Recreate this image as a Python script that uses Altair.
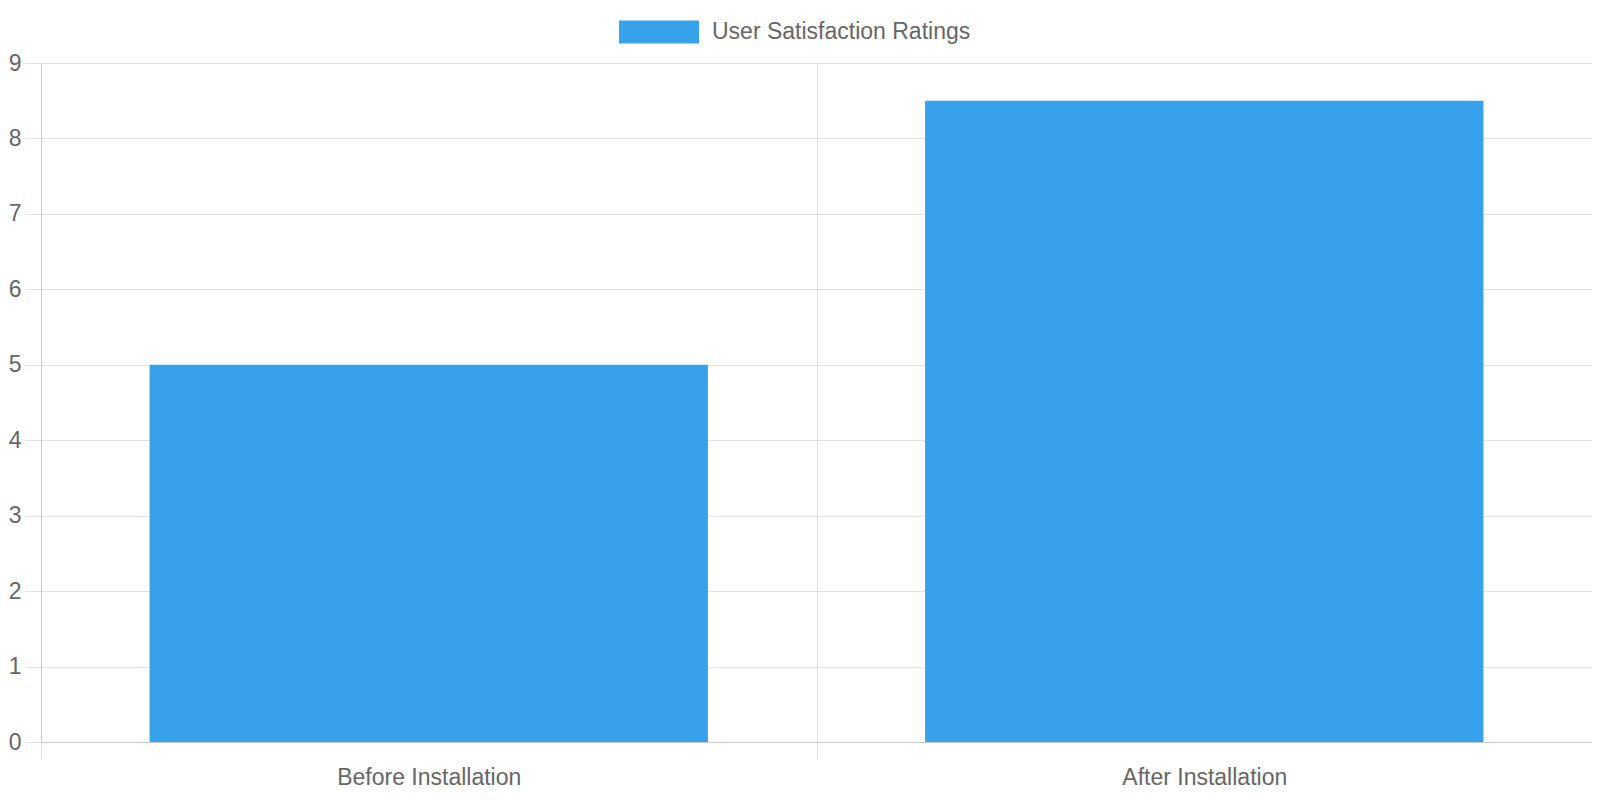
import pandas as pd
import altair as alt

# Chart values
categories = ['Before Installation', 'After Installation']
ratings = [5, 8.5]
series_name = 'User Satisfaction Ratings'

data = pd.DataFrame({
    'phase': categories,
    'rating': ratings,
    'series': [series_name] * len(categories),
})

font = 'Liberation Sans'
text_color = '#666666'
grid_color = '#e1e1e1'
axis_color = '#c9c9c9'

chart = alt.Chart(data).mark_bar(
    width=alt.RelativeBandSize(0.72)
).encode(
    x=alt.X(
        'phase:N',
        sort=categories,
        title=None,
        scale=alt.Scale(paddingInner=0, paddingOuter=0),
        axis=alt.Axis(
            labelAngle=0,
            labelFontSize=23,
            labelColor=text_color,
            labelFont=font,
            labelPadding=8,
            labelLimit=0,
            grid=True,
            gridColor=grid_color,
            tickBand='extent',
            tickColor=grid_color,
            tickSize=16,
            domainColor=axis_color,
        ),
    ),
    y=alt.Y(
        'rating:Q',
        title=None,
        scale=alt.Scale(domain=[0, 9], nice=False),
        axis=alt.Axis(
            values=list(range(10)),
            labelFontSize=23,
            labelColor=text_color,
            labelFont=font,
            labelPadding=4,
            labelLimit=0,
            grid=True,
            gridColor=grid_color,
            tickColor=grid_color,
            tickSize=16,
            domainColor=axis_color,
        ),
    ),
    color=alt.Color(
        'series:N',
        scale=alt.Scale(domain=[series_name], range=['#36A2EB']),
        legend=alt.Legend(
            title=None,
            orient='none',
            legendX=578,
            legendY=-71,
            symbolType='M-1,-0.2875H1V0.2875H-1Z',
            symbolSize=6400,
            symbolStrokeWidth=0,
            symbolOpacity=1,
            labelOffset=13,
            labelFontSize=23,
            labelColor=text_color,
            labelFont=font,
            labelLimit=0,
        ),
    ),
).properties(
    width=1551,
    height=679,
    autosize=alt.AutoSizeParams(type='none'),
    padding={'left': 33, 'top': 55, 'right': 0, 'bottom': 48},
).configure_view(
    stroke=None
)

chart.save('out.html', embed_options={'renderer': 'svg', 'actions': False})
